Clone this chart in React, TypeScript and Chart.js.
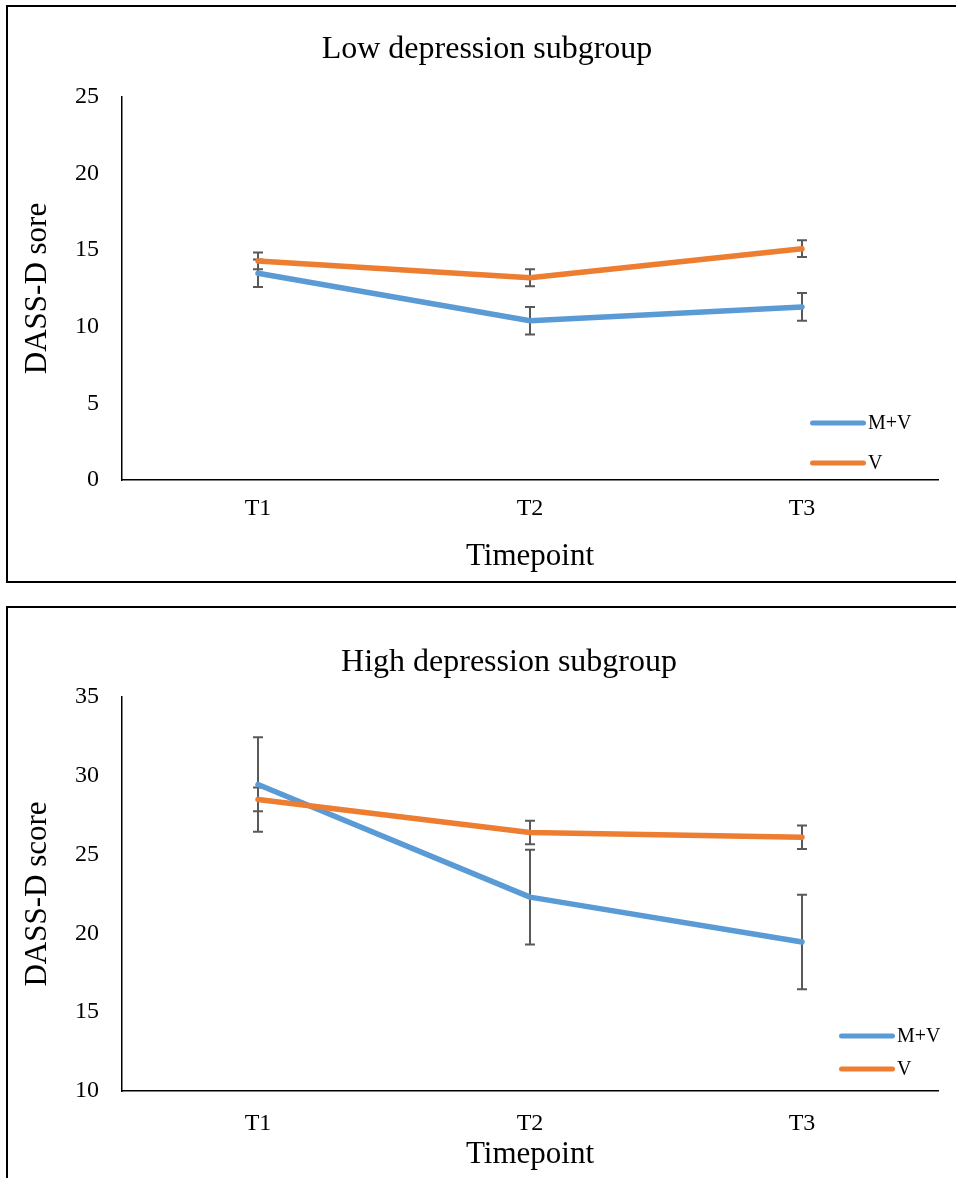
import React, { useEffect, useRef } from 'react';
import { Chart, registerables } from 'chart.js';

Chart.register(...registerables);

const categories = ['T1', 'T2', 'T3'];
const seriesLabels = ['M+V', 'V'];

const lowTitle = 'Low depression subgroup';
const lowMV = [13.5, 10.4, 11.3];
const lowMVErr = [0.9, 0.9, 0.9];
const lowV = [14.3, 13.2, 15.1];
const lowVErr = [0.55, 0.55, 0.55];
const lowTicks = [0, 5, 10, 15, 20, 25];

const highTitle = 'High depression subgroup';
const highMV = [29.45, 22.3, 19.45];
const highMVErr = [3.0, 3.0, 3.0];
const highV = [28.5, 26.4, 26.1];
const highVErr = [0.75, 0.75, 0.75];
const highTicks = [10, 15, 20, 25, 30, 35];

const BLUE = '#5B9BD5';
const ORANGE = '#ED7D31';
const ERR = '#595959';
const SERIF = "'Liberation Serif', 'Times New Roman', serif";

const errorBarPlugin = {
  id: 'errorBars',
  beforeDatasetsDraw(chart: any, _args: any, opts: any) {
    const { ctx } = chart;
    const xs = chart.scales.x;
    const ys = chart.scales.y;
    ctx.save();
    ctx.strokeStyle = opts.color;
    ctx.lineWidth = opts.width;
    chart.data.datasets.forEach((ds: any, di: number) => {
      const errs = opts.errors[di];
      ds.data.forEach((v: number, i: number) => {
        const px = xs.getPixelForValue(i);
        const top = ys.getPixelForValue(v + errs[i]);
        const bot = ys.getPixelForValue(v - errs[i]);
        ctx.beginPath();
        ctx.moveTo(px, top);
        ctx.lineTo(px, bot);
        ctx.moveTo(px - opts.cap, top);
        ctx.lineTo(px + opts.cap, top);
        ctx.moveTo(px - opts.cap, bot);
        ctx.lineTo(px + opts.cap, bot);
        ctx.stroke();
      });
    });
    ctx.restore();
  },
};

const sideLegendPlugin = {
  id: 'sideLegend',
  afterDatasetsDraw(chart: any, _args: any, opts: any) {
    const { ctx, chartArea } = chart;
    ctx.save();
    chart.data.datasets.forEach((ds: any, i: number) => {
      const y = chartArea.bottom + opts.dy[i];
      const x0 = chartArea.right + opts.dx;
      ctx.strokeStyle = ds.borderColor;
      ctx.lineWidth = 5;
      ctx.lineCap = 'round';
      ctx.beginPath();
      ctx.moveTo(x0 + 2.5, y);
      ctx.lineTo(x0 + opts.len - 2.5, y);
      ctx.stroke();
      ctx.fillStyle = '#000';
      ctx.font = `${opts.size}px ${SERIF}`;
      ctx.textAlign = 'left';
      ctx.textBaseline = 'middle';
      ctx.fillText(ds.label, x0 + opts.len + 2, y + 1);
    });
    ctx.restore();
  },
};

function buildConfig(p: any) {
  return {
    type: 'line',
    data: {
      labels: categories,
      datasets: [
        {
          label: seriesLabels[0],
          data: p.mv,
          borderColor: BLUE,
          backgroundColor: BLUE,
          borderWidth: 5.5,
          pointRadius: 0,
          borderCapStyle: 'round',
          borderJoinStyle: 'round',
          tension: 0,
          order: 2,
        },
        {
          label: seriesLabels[1],
          data: p.v,
          borderColor: ORANGE,
          backgroundColor: ORANGE,
          borderWidth: 5.5,
          pointRadius: 0,
          borderCapStyle: 'round',
          borderJoinStyle: 'round',
          tension: 0,
          order: 1,
        },
      ],
    },
    options: {
      responsive: false,
      animation: false,
      events: [],
      layout: { padding: { left: 13, right: 13, top: 0, bottom: 0 } },
      plugins: {
        legend: { display: false },
        tooltip: { enabled: false },
        title: {
          display: true,
          text: p.title,
          color: '#000',
          font: { family: SERIF, size: 32, weight: 'normal', lineHeight: 1.2 },
          padding: { top: p.titleTop, bottom: p.titleBottom },
        },
        errorBars: { errors: [p.mvErr, p.vErr], color: ERR, width: 2, cap: 5 },
        sideLegend: p.legend,
      },
      scales: {
        x: {
          type: 'category',
          offset: true,
          grid: { display: false, drawTicks: false },
          border: { display: true, color: '#000', width: 1.5 },
          ticks: { color: '#000', font: { family: SERIF, size: 24, lineHeight: 1.2 }, padding: p.xTickPad },
          title: {
            display: true,
            text: 'Timepoint',
            color: '#000',
            font: { family: SERIF, size: 31, lineHeight: 1.2 },
            padding: { top: 0, bottom: p.xTitlePad },
          },
          afterFit: (s: any) => {
            s.height = p.xHeight;
          },
        },
        y: {
          type: 'linear',
          position: 'left',
          min: p.ticks[0],
          max: p.ticks[p.ticks.length - 1],
          grid: { display: false, drawTicks: false },
          border: { display: true, color: '#000', width: 1.5 },
          ticks: {
            stepSize: p.ticks[1] - p.ticks[0],
            color: '#000',
            font: { family: SERIF, size: 24, lineHeight: 1.2 },
            padding: 23,
          },
          title: {
            display: true,
            text: p.yTitle,
            color: '#000',
            font: { family: SERIF, size: 31, lineHeight: 1.2 },
            padding: { top: 6, bottom: 4 },
          },
          afterFit: (s: any) => {
            s.width = 109;
          },
        },
        y2: {
          type: 'linear',
          position: 'right',
          display: true,
          grid: { display: false, drawTicks: false },
          border: { display: false },
          ticks: { display: false },
          afterFit: (s: any) => {
            s.width = p.rightWidth;
          },
        },
      },
    },
    plugins: [errorBarPlugin, sideLegendPlugin],
  };
}

function ChartCanvas({ config, width, height, top }: any) {
  const ref = useRef<HTMLCanvasElement | null>(null);
  useEffect(() => {
    if (!ref.current) return;
    const chart = new Chart(ref.current, config as any);
    return () => chart.destroy();
  }, []);
  return (
    <canvas
      ref={ref}
      width={width}
      height={height}
      style={{ position: 'absolute', left: 0, top, width, height }}
    />
  );
}

const lowConfig = buildConfig({
  title: lowTitle,
  mv: lowMV,
  mvErr: lowMVErr,
  v: lowV,
  vErr: lowVErr,
  ticks: lowTicks,
  yTitle: 'DASS-D sore',
  titleTop: 30.8,
  titleBottom: 27.8,
  xHeight: 102,
  xTickPad: 14.6,
  xTitlePad: 6.4,
  rightWidth: 23,
  legend: { dx: -128, dy: [-57, -17], len: 56, size: 20 },
});

const highConfig = buildConfig({
  title: highTitle,
  mv: highMV,
  mvErr: highMVErr,
  v: highV,
  vErr: highVErr,
  ticks: highTicks,
  yTitle: 'DASS-D score',
  titleTop: 37.8,
  titleBottom: 14.8,
  xHeight: 87,
  xTickPad: 18.6,
  xTitlePad: 4.4,
  rightWidth: 67,
  legend: { dx: -99, dy: [-55, -22], len: 56, size: 20 },
});

export default function App() {
  return (
    <div
      style={{
        position: 'absolute',
        left: 0,
        top: 0,
        width: 956,
        height: 1178,
        overflow: 'hidden',
        background: '#fff',
      }}
    >
      <div
        style={{
          position: 'absolute',
          left: 6,
          top: 5,
          width: 1000,
          height: 578,
          border: '2px solid #000',
          boxSizing: 'border-box',
        }}
      />
      <div
        style={{
          position: 'absolute',
          left: 6,
          top: 606,
          width: 1000,
          height: 700,
          border: '2px solid #000',
          boxSizing: 'border-box',
        }}
      />
      <ChartCanvas config={lowConfig} width={974} height={582} top={0} />
      <ChartCanvas config={highConfig} width={1018} height={572} top={606} />
    </div>
  );
}
